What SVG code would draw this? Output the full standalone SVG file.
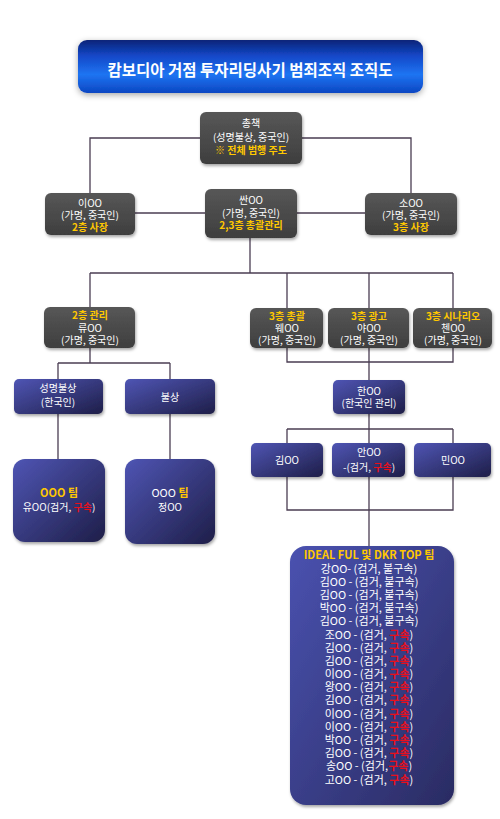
<svg xmlns="http://www.w3.org/2000/svg" width="500" height="819" viewBox="0 0 500 819">
<defs>
<linearGradient id="gTitle" x1="0" y1="0" x2="0" y2="1">
<stop offset="0" stop-color="#0a2478"/>
<stop offset="0.3" stop-color="#1448c8"/>
<stop offset="0.65" stop-color="#1e74f2"/>
<stop offset="1" stop-color="#0c46c2"/>
</linearGradient>
<linearGradient id="gGray" x1="0" y1="0" x2="0" y2="1">
<stop offset="0" stop-color="#575757"/>
<stop offset="1" stop-color="#3e3e3e"/>
</linearGradient>
<linearGradient id="gNavy" x1="0" y1="0" x2="1" y2="1">
<stop offset="0" stop-color="#4f55b4"/>
<stop offset="1" stop-color="#1e1e48"/>
</linearGradient>
<linearGradient id="gBig" x1="0" y1="0" x2="1" y2="1">
<stop offset="0" stop-color="#4a52b0"/>
<stop offset="1" stop-color="#2a2b62"/>
</linearGradient>
<filter id="sh" x="-20%" y="-20%" width="140%" height="150%">
<feDropShadow dx="1" dy="2" stdDeviation="1.5" flood-color="#000" flood-opacity="0.35"/>
</filter>
<filter id="shT" x="-10%" y="-40%" width="120%" height="180%">
<feDropShadow dx="0" dy="2" stdDeviation="3" flood-color="#000" flood-opacity="0.35"/>
</filter>
</defs>
<style>
text{font-family:"Noto Sans CJK KR","Noto Sans",sans-serif;text-anchor:middle;fill:#ffffff;font-size:10px}
.gb{fill:url(#gGray);filter:url(#sh)}
.nb{fill:url(#gNavy);filter:url(#sh)}
.y{fill:#ffc800;font-weight:bold}
.r{fill:#e8101c;font-weight:bold}
.big text{font-size:11px}
.conn{fill:none;stroke:#4a3d52;stroke-width:1.3}
</style>
<rect width="500" height="819" fill="#ffffff"/>

<g id="title">
<rect x="78" y="40" width="345" height="53" rx="9" fill="url(#gTitle)" filter="url(#shT)"/>
<text x="250" y="76" style="font-size:15.5px;font-weight:bold">캄보디아 거점 투자리딩사기 범죄조직 조직도</text>
</g>

<g id="connectors" class="conn">
<path d="M200,138 H90 V193"/>
<path d="M302,138 H411 V193"/>
<path d="M135,213 H205"/>
<path d="M297,213 H365"/>
<path d="M250,238 V273"/>
<path d="M90,273 H453"/>
<path d="M90,273 V307"/>
<path d="M287,273 V308"/>
<path d="M369,273 V308"/>
<path d="M453,273 V308"/>
<path d="M90,348 V363"/>
<path d="M58,363 H170"/>
<path d="M58,363 V379"/>
<path d="M170,363 V379"/>
<path d="M58,414 V459"/>
<path d="M170,414 V459"/>
<path d="M287,348 V362 H453 V348"/>
<path d="M369,348 V380"/>
<path d="M369,414 V429"/>
<path d="M287,429 H453"/>
<path d="M287,429 V443"/>
<path d="M369,429 V443"/>
<path d="M453,429 V443"/>
<path d="M287,477 V510 H453 V477"/>
<path d="M369,477 V546"/>
</g>

<g id="n-chongchaek">
<rect class="gb" x="200" y="112" width="102" height="52" rx="6"/>
<text x="251" y="127">총책</text>
<text x="251" y="141">(성명불상, 중국인)</text>
<text x="251" y="154" class="y">※ 전체 범행 주도</text>
</g>

<g id="n-lee">
<rect class="gb" x="45" y="193" width="90" height="42" rx="6"/>
<text x="90" y="207">이OO</text>
<text x="90" y="219">(가명, 중국인)</text>
<text x="90" y="231" class="y">2층 사장</text>
</g>

<g id="n-ssan">
<rect class="gb" x="205" y="189" width="92" height="49" rx="6"/>
<text x="251" y="204">싼OO</text>
<text x="251" y="217">(가명, 중국인)</text>
<text x="251" y="229" class="y">2,3층 총괄관리</text>
</g>

<g id="n-so">
<rect class="gb" x="365" y="193" width="92" height="42" rx="6"/>
<text x="411" y="207">소OO</text>
<text x="411" y="219">(가명, 중국인)</text>
<text x="411" y="231" class="y">3층 사장</text>
</g>

<g id="n-ryu">
<rect class="gb" x="44" y="307" width="91" height="41" rx="6"/>
<text x="90" y="319" class="y">2층 관리</text>
<text x="90" y="332">류OO</text>
<text x="90" y="344">(가명, 중국인)</text>
</g>

<g id="n-wei">
<rect class="gb" x="250" y="308" width="73" height="40" rx="6"/>
<text x="287" y="320" class="y">3층 총괄</text>
<text x="287" y="332">웨OO</text>
<text x="287" y="344">(가명, 중국인)</text>
</g>

<g id="n-ya">
<rect class="gb" x="328" y="308" width="81" height="40" rx="6"/>
<text x="369" y="320" class="y">3층 광고</text>
<text x="369" y="332">야OO</text>
<text x="369" y="344">(가명, 중국인)</text>
</g>

<g id="n-chen">
<rect class="gb" x="413" y="308" width="79" height="40" rx="6"/>
<text x="453" y="320" class="y">3층 시나리오</text>
<text x="453" y="332">첸OO</text>
<text x="453" y="344">(가명, 중국인)</text>
</g>

<g id="n-unknown-kr">
<rect class="nb" x="14" y="379" width="89" height="35" rx="5"/>
<text x="58" y="392">성명불상</text>
<text x="58" y="406">(한국인)</text>
</g>

<g id="n-unknown">
<rect class="nb" x="125" y="379" width="90" height="35" rx="5"/>
<text x="170" y="401">불상</text>
</g>

<g id="n-team1">
<rect class="nb" x="13" y="459" width="92" height="83" rx="12"/>
<text x="59" y="497" class="y" style="font-size:11px">OOO 팀</text>
<text x="59" y="511">유OO(검거, <tspan class="r">구속</tspan>)</text>
</g>

<g id="n-team2">
<rect class="nb" x="125" y="459" width="90" height="85" rx="12"/>
<text x="170" y="497" style="font-size:11px">OOO <tspan class="y">팀</tspan></text>
<text x="170" y="511">정OO</text>
</g>

<g id="n-han">
<rect class="nb" x="333" y="380" width="72" height="34" rx="5"/>
<text x="369" y="395">한OO</text>
<text x="369" y="407">(한국인 관리)</text>
</g>

<g id="n-kim">
<rect class="nb" x="251" y="443" width="72" height="34" rx="5"/>
<text x="287" y="464">김OO</text>
</g>

<g id="n-ahn">
<rect class="nb" x="332" y="443" width="73" height="34" rx="5"/>
<text x="369" y="456">안OO</text>
<text x="369" y="471">-(검거, <tspan class="r">구속</tspan>)</text>
</g>

<g id="n-min">
<rect class="nb" x="414" y="443" width="77" height="34" rx="5"/>
<text x="453" y="464">민OO</text>
</g>

<g id="n-ideal" class="big">
<rect x="290" y="546" width="164" height="259" rx="16" fill="url(#gBig)" filter="url(#sh)"/>
<text x="369" y="559" class="y">IDEAL FUL 및 DKR TOP 팀</text>
<text x="369" y="573">강OO- (검거, 불구속)</text>
<text x="369" y="586">김OO - (검거, 불구속)</text>
<text x="369" y="599">김OO - (검거, 불구속)</text>
<text x="369" y="612">박OO - (검거, 불구속)</text>
<text x="369" y="625">김OO - (검거, 불구속)</text>
<text x="369" y="639">조OO - (검거, <tspan class="r">구속</tspan>)</text>
<text x="369" y="652">김OO - (검거, <tspan class="r">구속</tspan>)</text>
<text x="369" y="665">김OO - (검거, <tspan class="r">구속</tspan>)</text>
<text x="369" y="678">이OO - (검거, <tspan class="r">구속</tspan>)</text>
<text x="369" y="691">왕OO - (검거, <tspan class="r">구속</tspan>)</text>
<text x="369" y="704">김OO - (검거, <tspan class="r">구속</tspan>)</text>
<text x="369" y="718">이OO - (검거, <tspan class="r">구속</tspan>)</text>
<text x="369" y="731">이OO - (검거, <tspan class="r">구속</tspan>)</text>
<text x="369" y="744">박OO - (검거, <tspan class="r">구속</tspan>)</text>
<text x="369" y="757">김OO - (검거, <tspan class="r">구속</tspan>)</text>
<text x="369" y="770">송OO - (검거,<tspan class="r">구속</tspan>)</text>
<text x="369" y="784">고OO - (검거, <tspan class="r">구속</tspan>)</text>
</g>
</svg>
